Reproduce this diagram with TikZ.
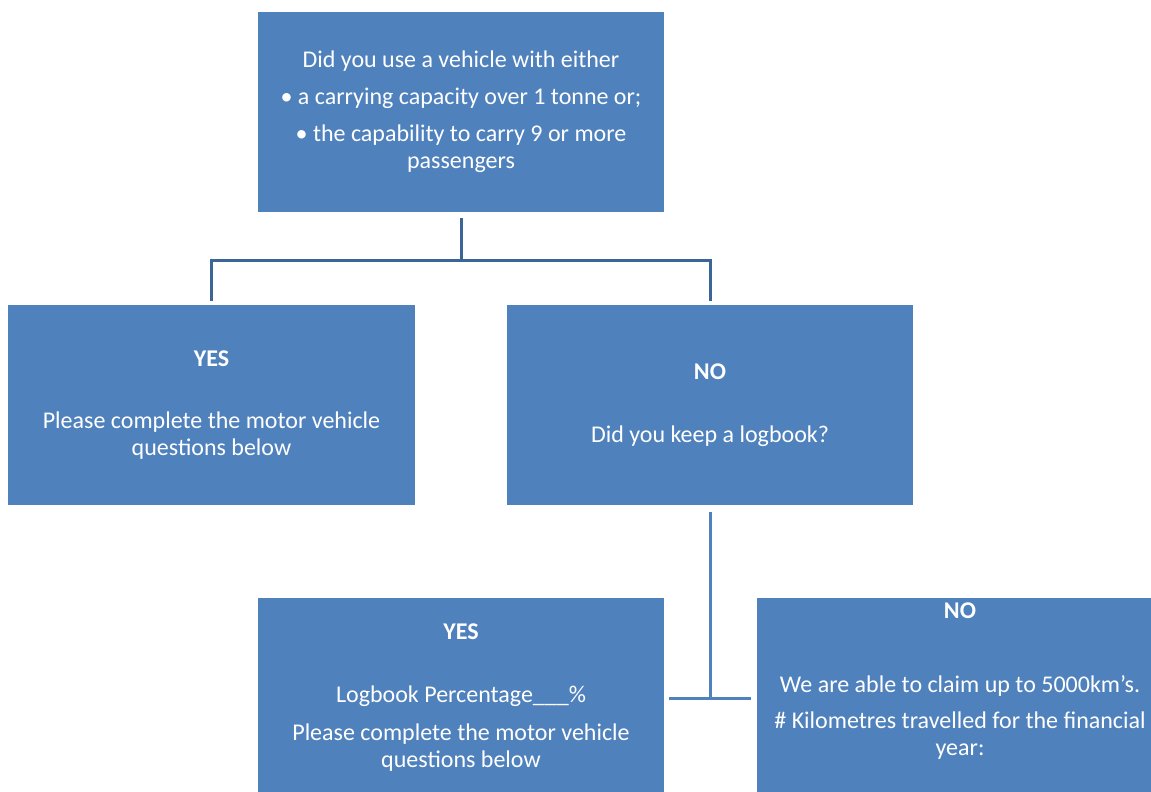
\documentclass[tikz,border=0pt]{standalone}
\usepackage{fontspec}
\setmainfont{Carlito}
\usetikzlibrary{positioning}

\definecolor{boxblue}{HTML}{4F81BD}
\definecolor{linkblue}{HTML}{3C6597}

\newcommand{\boxwidth}[0]{406bp}
\newcommand{\boxheight}[0]{200bp}
\tikzstyle{link} = [draw=linkblue,line width=3bp]
\tikzstyle{sublink} = [draw=boxblue,line width=3bp]
\tikzstyle{box}=[
  rectangle,
  fill=boxblue,
  text=white,
  align=center,
  anchor=center,
  inner sep=0pt,
  minimum width=\boxwidth,
  minimum height=\boxheight,
  font=\fontsize{24bp}{27bp}\selectfont,
]

\begin{document}
\begin{tikzpicture}[x=1bp,y=1bp]
  \clip (0,0) rectangle (1151,792);

  \node[box] (question) at (461,680) {Did you use a vehicle with either\\[10bp]
    \textbullet\ a carrying capacity over 1 tonne or;\\[10bp]
    \textbullet\ the capability to carry 9 or more\\ passengers};
  \node[box] (yes) at ([xshift=-249.5bp, yshift=-293.5bp] question.center) {\textbf{YES}\\[35bp]
    Please complete the motor vehicle\\ questions below};
  \node[box] (no) at ([xshift=249bp, yshift=-293.5bp] question.center) {\textbf{NO}\\[36bp]
    Did you keep a logbook?};
  \coordinate (fork) at ([yshift=-48bp] question.south);
  \draw[link] ([yshift=-6bp] question.south) -- (fork) -| ([yshift=4bp] yes.north);
  \draw[link] (fork) -| ([yshift=4bp] no.north);

  \node[box] (logyes) at ([xshift=-249bp, yshift=-292.5bp] no.center) {\textbf{YES}\\[36bp]
    Logbook Percentage\_\_\_\%\\[11bp]
    Please complete the motor vehicle\\ questions below};
  \node[box] (logno) at ([xshift=250bp, yshift=-292.5bp] no.center) {\textbf{NO}\\[47bp]
    We are able to claim up to 5000km’s.\\[9bp]
    \# Kilometres travelled for the financial\\ year:\\[10bp] ~};
  \draw[sublink] ([yshift=-6bp] no.south) -- (no.south |- logyes.east);
  \draw[sublink] ([xshift=5bp] logyes.east) -- ([xshift=-6bp] logno.west);
\end{tikzpicture}
\end{document}
